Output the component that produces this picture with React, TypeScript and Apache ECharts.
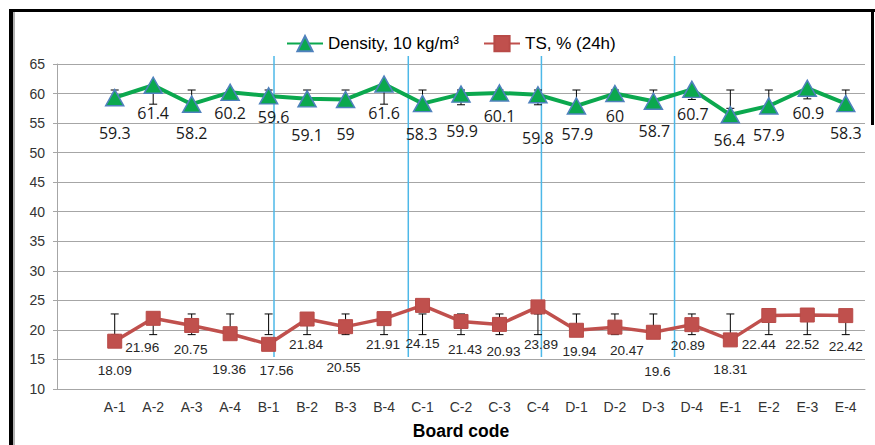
import React, { useEffect, useRef } from 'react';
import * as echarts from 'echarts';

// ---------- data ----------
const categories = ['A-1', 'A-2', 'A-3', 'A-4', 'B-1', 'B-2', 'B-3', 'B-4', 'C-1', 'C-2', 'C-3', 'C-4', 'D-1', 'D-2', 'D-3', 'D-4', 'E-1', 'E-2', 'E-3', 'E-4'];
const densityName = 'Density, 10 kg/m³';
const tsName = 'TS, % (24h)';
const density = [59.3, 61.4, 58.2, 60.2, 59.6, 59.1, 59, 61.6, 58.3, 59.9, 60.1, 59.8, 57.9, 60, 58.7, 60.7, 56.4, 57.9, 60.9, 58.3];
const densityErrLow = [58.2, 58.2, 58.2, 59.05, 59.0, 58.2, 58.2, 58.2, 58.2, 58.1, 59.0, 58.1, 58.2, 59.0, 58.2, 59.0, 57.5, 58.2, 59.1, 58.2];
const densityErrHigh = [60.6, 60.6, 60.6, 60.6, 60.6, 60.6, 60.6, 60.6, 60.6, 60.6, 60.6, 60.6, 60.6, 60.6, 60.6, 60.6, 60.6, 60.6, 60.6, 60.6];
const ts = [18.09, 21.96, 20.75, 19.36, 17.56, 21.84, 20.55, 21.91, 24.15, 21.43, 20.93, 23.89, 19.94, 20.47, 19.6, 20.89, 18.31, 22.44, 22.52, 22.42];
const tsErrLow = [19.2, 19.2, 19.2, 19.2, 19.2, 19.2, 19.2, 19.2, 19.2, 19.2, 19.2, 19.2, 19.2, 19.2, 19.2, 19.2, 19.2, 19.2, 19.2, 19.2];
const tsErrHigh = [22.7, 22.7, 22.7, 22.7, 22.7, 22.7, 22.7, 22.7, 22.7, 22.7, 22.7, 22.7, 22.7, 22.7, 22.7, 22.7, 22.7, 22.7, 22.7, 22.7];
const yMin = 10;
const yMax = 65;
const yInterval = 5;

// ---------- layout (hand-placed annotations in the original) ----------
// separator lines: position in category slots (slot 0 is the empty leading slot), top & bottom y value
const separatorSlots = [5.64, 9.13, 12.59, 16.05];
const separatorTop = 66.35;
const separatorBottom = 15.4;
// label offsets (px) from marker centre
const densityLabelDx = [0, 0, 0, 0, 5, 0, 0, 0, -1, 1, 0, 0, 1, 0, 1, 1, -1, 0, 1, 0];
const densityLabelDy = [35, 28, 29, 21, 21, 36, 34.5, 29, 30, 37, 23, 43, 28, 22.5, 30, 25, 25, 29, 25, 29.5];
const tsLabelDx = [0, -11, -1, -1, 8, -1, -2, -1, 0, 4, 4, 3, 3, 12, 4, -4, 0, -10, -5, 0];
const tsLabelDy = [29.5, 29, 24, 35.6, 26.4, 25, 40.6, 25.4, 38.6, 28, 26.6, 38, 21.4, 23, 39.4, 21.3, 30, 29.5, 29, 30.4];

const GREEN = '#0BA84E';
const RED = '#C0504D';
const GRID = '#A6A6A6';

export default function App() {
  const ref = useRef<HTMLDivElement>(null);

  useEffect(() => {
    if (!ref.current) return;
    const chart = echarts.init(ref.current, undefined, { renderer: 'svg' });

    const xCats = ['', ...categories];
    const densityData: any[] = ['-', ...density.map((v, i) => ({
      value: v,
      label: { offset: [densityLabelDx[i], densityLabelDy[i]] },
    }))];
    const tsData: any[] = ['-', ...ts.map((v, i) => ({
      value: v,
      label: { offset: [tsLabelDx[i], tsLabelDy[i]] },
    }))];
    const densityErr = density.map((_, i) => [i + 1, densityErrLow[i], densityErrHigh[i]]);
    const tsErr = ts.map((_, i) => [i + 1, tsErrLow[i], tsErrHigh[i]]);
    const sepData = separatorSlots.map((s) => [s, separatorBottom, separatorTop]);

    const errRender = (params: any, api: any) => {
      const x = api.value(0);
      const lo = api.coord([x, api.value(1)]);
      const hi = api.coord([x, api.value(2)]);
      const w = 4;
      const st = { stroke: '#000', lineWidth: 1 };
      return {
        type: 'group',
        children: [
          { type: 'line', shape: { x1: lo[0], y1: lo[1], x2: hi[0], y2: hi[1] }, style: st },
          { type: 'line', shape: { x1: lo[0] - w, y1: lo[1], x2: lo[0] + w, y2: lo[1] }, style: st },
          { type: 'line', shape: { x1: hi[0] - w, y1: hi[1], x2: hi[0] + w, y2: hi[1] }, style: st },
        ],
      };
    };

    const sepRender = (params: any, api: any) => {
      const x = api.value(0);
      const a = api.coord([x, api.value(1)]);
      const b = api.coord([x, api.value(2)]);
      return {
        type: 'line',
        shape: { x1: a[0], y1: a[1], x2: b[0], y2: b[1] },
        style: { stroke: '#4DB8E8', lineWidth: 1.5 },
      };
    };

    chart.setOption({
      animation: false,
      backgroundColor: '#fff',
      grid: { left: 57, right: 10, top: 64, bottom: 56, containLabel: false },
      legend: {
        left: 281,
        top: 30,
        itemWidth: 36,
        itemHeight: 19,
        itemGap: 24,
        textStyle: { fontFamily: 'Liberation Sans', fontSize: 17, color: '#000' },
        data: [densityName, tsName],
      },
      xAxis: [
        {
          type: 'category',
          data: xCats,
          boundaryGap: true,
          name: 'Board code',
          nameLocation: 'middle',
          nameGap: 33,
          nameTextStyle: { fontFamily: 'Liberation Sans', fontSize: 17.5, fontWeight: 'bold', color: '#000' },
          axisLine: { show: true, lineStyle: { color: GRID, width: 1 } },
          axisTick: { show: false },
          axisLabel: { interval: 0, margin: 11, fontFamily: 'Liberation Sans', fontSize: 14, color: '#333' },
          splitLine: { show: false },
        },
        { type: 'value', min: 0, max: 21, show: false },
      ],
      yAxis: {
        type: 'value',
        min: yMin,
        max: yMax,
        interval: yInterval,
        axisLine: { show: true, lineStyle: { color: GRID, width: 1 } },
        axisTick: { show: true, length: 4, lineStyle: { color: GRID } },
        axisLabel: { margin: 12, fontFamily: 'Liberation Sans', fontSize: 14, color: '#333' },
        splitLine: { show: true, lineStyle: { color: GRID, width: 1 } },
      },
      series: [
        {
          type: 'custom',
          name: 'sep',
          xAxisIndex: 1,
          data: sepData,
          renderItem: sepRender,
          z: 1,
          silent: true,
          clip: false,
        },
        {
          type: 'custom',
          name: 'densityErr',
          data: densityErr,
          renderItem: errRender,
          z: 2,
          silent: true,
          clip: false,
        },
        {
          type: 'custom',
          name: 'tsErr',
          data: tsErr,
          renderItem: errRender,
          z: 2,
          silent: true,
          clip: false,
        },
        {
          type: 'line',
          name: densityName,
          data: densityData,
          z: 3,
          symbol: 'triangle',
          symbolSize: [18, 16],
          lineStyle: { color: GREEN, width: 4 },
          itemStyle: { color: GREEN, borderColor: '#4F81BD', borderWidth: 1.5 },
          label: {
            show: true,
            position: 'inside',
            formatter: '{c}',
            fontFamily: 'Open Sans',
            fontSize: 16,
            color: '#1a1a1a',
          },
        },
        {
          type: 'line',
          name: tsName,
          data: tsData,
          z: 3,
          symbol: 'rect',
          symbolSize: 14,
          lineStyle: { color: RED, width: 3.5 },
          itemStyle: { color: RED, borderColor: '#B84A47', borderWidth: 1 },
          label: {
            show: true,
            position: 'inside',
            formatter: '{c}',
            fontFamily: 'Liberation Sans',
            fontSize: 13.6,
            color: '#262626',
          },
        },
      ],
      graphic: [
        { type: 'line', z: 100, shape: { x1: 11, y1: 9, x2: 11, y2: 445 }, style: { stroke: '#000', lineWidth: 4 } },
        { type: 'line', z: 100, shape: { x1: 14, y1: 12, x2: 14, y2: 445 }, style: { stroke: '#999', lineWidth: 1.5 } },
        { type: 'line', z: 100, shape: { x1: 9, y1: 10.5, x2: 875, y2: 10.5 }, style: { stroke: '#000', lineWidth: 3 } },
        { type: 'line', z: 100, shape: { x1: 872.5, y1: 9, x2: 872.5, y2: 125 }, style: { stroke: '#000', lineWidth: 3 } },
      ],
    });

    return () => chart.dispose();
  }, []);

  return (
    <div
      ref={ref}
      style={{ position: 'fixed', left: 0, top: 0, width: 875, height: 445, background: '#fff' }}
    />
  );
}
